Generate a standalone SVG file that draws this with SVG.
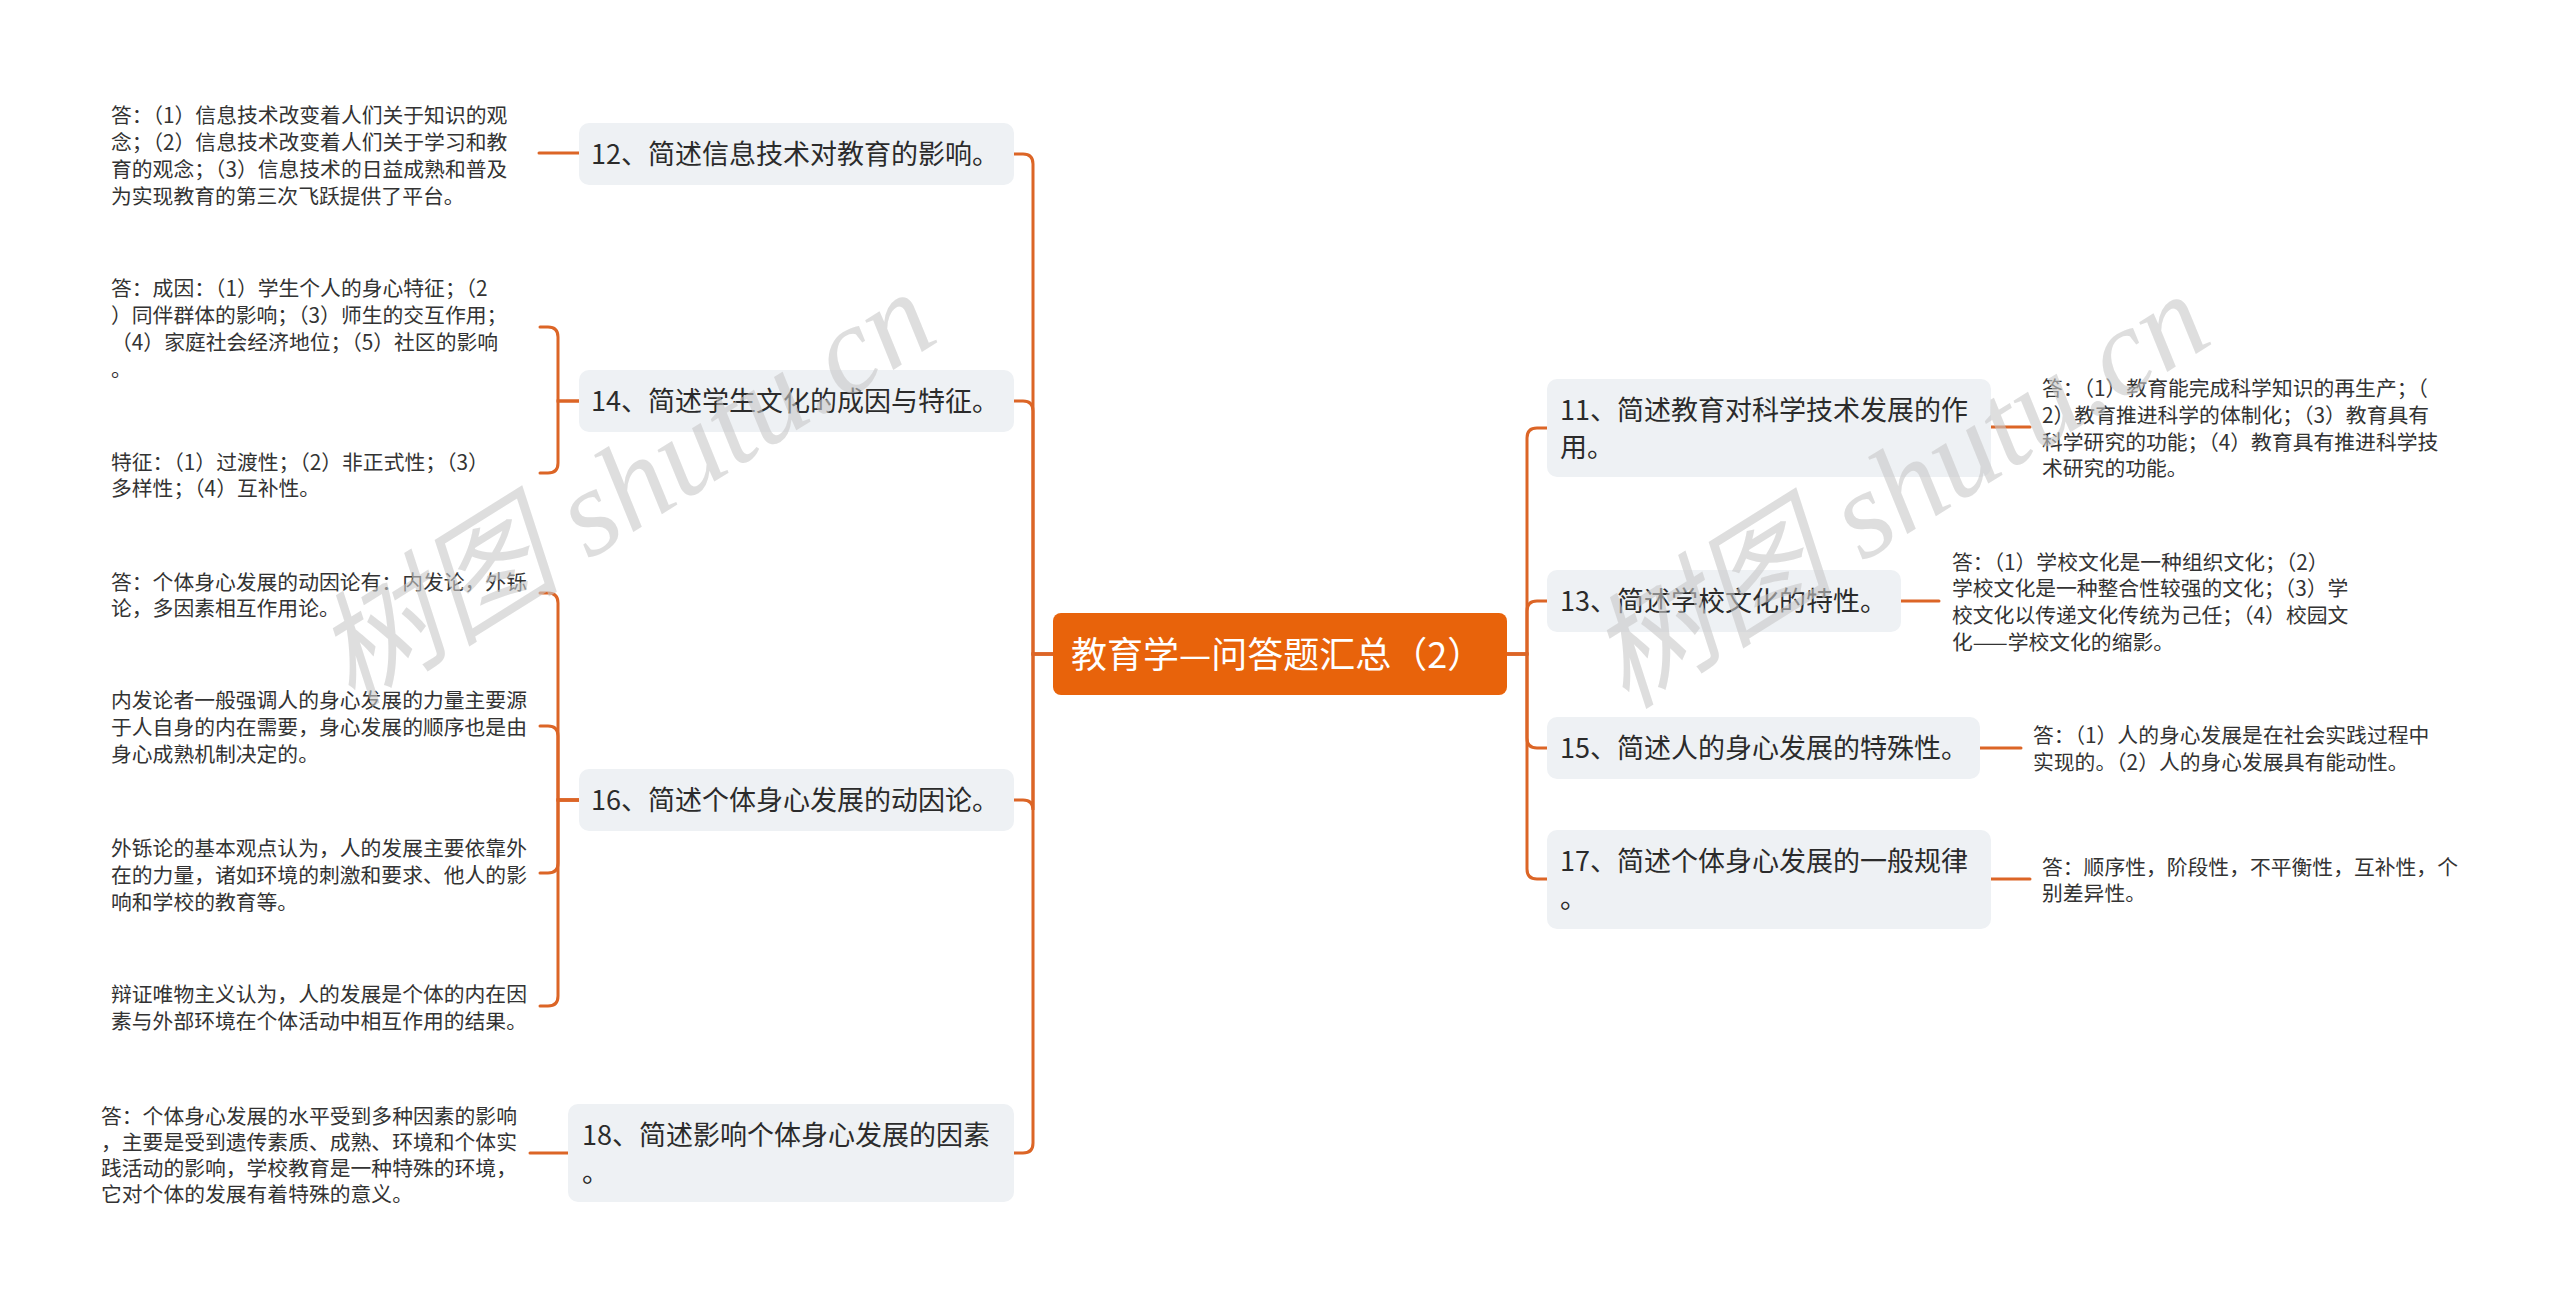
<svg xmlns="http://www.w3.org/2000/svg" width="2560" height="1307" viewBox="0 0 2560 1307">
<style>
.bg{fill:#ffffff}
.node rect{fill:#eef1f4}
.root rect{fill:#e8630b}
.nt{font-family:"Noto Sans CJK SC","Noto Sans",sans-serif;font-size:27px;fill:#2b2b2b}
.rt{font-family:"Noto Sans CJK SC","Noto Sans",sans-serif;font-size:36px;fill:#ffffff}
.lt{font-family:"Noto Sans CJK SC","Noto Sans",sans-serif;font-size:20.8px;fill:#333333}
.conn path{fill:none;stroke:#dc6526;stroke-width:3;stroke-linecap:round}
.wm{font-family:"Liberation Serif","Noto Sans CJK SC",serif;font-style:italic;font-size:124px;fill:#c8c8c8;fill-opacity:0.6}
</style>
<rect class="bg" x="0" y="0" width="2560" height="1307"/>
<g id="connectors" class="conn">
<path d="M1053 654 H1033 V164 Q1033 154 1023 154 H1014"/>
<path d="M1053 654 H1033 V411 Q1033 401 1023 401 H1014"/>
<path d="M1053 654 H1033 V810 Q1033 800 1023 800 H1014"/>
<path d="M1053 654 H1033 V1143 Q1033 1153 1023 1153 H1014"/>
<path d="M1507 654 H1527 V438 Q1527 428 1537 428 H1547"/>
<path d="M1507 654 H1527 V611 Q1527 601 1537 601 H1547"/>
<path d="M1507 654 H1527 V738 Q1527 748 1537 748 H1547"/>
<path d="M1507 654 H1527 V869 Q1527 879 1537 879 H1547"/>
<path d="M579 153 H539"/>
<path d="M579 401 H558 V337 Q558 327 548 327 H540"/>
<path d="M579 401 H558 V463 Q558 473 548 473 H540"/>
<path d="M579 800 H558 V603 Q558 593 548 593 H540"/>
<path d="M579 800 H558 V736 Q558 726 548 726 H540"/>
<path d="M579 800 H558 V863 Q558 873 548 873 H540"/>
<path d="M579 800 H558 V996 Q558 1006 548 1006 H540"/>
<path d="M568 1153 H530"/>
<path d="M1991 427 H2030"/>
<path d="M1901 601 H1939"/>
<path d="M1980 748 H2021"/>
<path d="M1991 879 H2030"/>
</g>
<g id="root" class="root">
<rect x="1053" y="613" width="454" height="82" rx="8"/>
<text class="rt" x="1071" y="668">教育学—问答题汇总（2）</text>
</g>
<g id="n12" class="node">
<rect x="579" y="123" width="435" height="62" rx="10"/>
<text class="nt" x="591" y="164">12、简述信息技术对教育的影响。</text>
</g>
<g id="n14" class="node">
<rect x="579" y="370" width="435" height="62" rx="10"/>
<text class="nt" x="591" y="411">14、简述学生文化的成因与特征。</text>
</g>
<g id="n16" class="node">
<rect x="579" y="769" width="435" height="62" rx="10"/>
<text class="nt" x="591" y="810">16、简述个体身心发展的动因论。</text>
</g>
<g id="n18" class="node">
<rect x="568" y="1104" width="446" height="98" rx="10"/>
<text class="nt" x="582" y="1145">18、简述影响个体身心发展的因素</text>
<text class="nt" x="582" y="1182">。</text>
</g>
<g id="n11" class="node">
<rect x="1547" y="379" width="444" height="98" rx="10"/>
<text class="nt" x="1560" y="420">11、简述教育对科学技术发展的作</text>
<text class="nt" x="1560" y="457">用。</text>
</g>
<g id="n13" class="node">
<rect x="1547" y="570" width="354" height="62" rx="10"/>
<text class="nt" x="1560" y="611">13、简述学校文化的特性。</text>
</g>
<g id="n15" class="node">
<rect x="1547" y="717" width="433" height="62" rx="10"/>
<text class="nt" x="1560" y="758">15、简述人的身心发展的特殊性。</text>
</g>
<g id="n17" class="node">
<rect x="1547" y="830" width="444" height="99" rx="10"/>
<text class="nt" x="1560" y="871">17、简述个体身心发展的一般规律</text>
<text class="nt" x="1560" y="908">。</text>
</g>
<g id="l12">
<text class="lt" x="111" y="123">答：（1）信息技术改变着人们关于知识的观</text>
<text class="lt" x="111" y="150">念；（2）信息技术改变着人们关于学习和教</text>
<text class="lt" x="111" y="177">育的观念；（3）信息技术的日益成熟和普及</text>
<text class="lt" x="111" y="204">为实现教育的第三次飞跃提供了平台。</text>
</g>
<g id="l14a">
<text class="lt" x="111" y="296">答：成因：（1）学生个人的身心特征；（2</text>
<text class="lt" x="111" y="323">）同伴群体的影响；（3）师生的交互作用；</text>
<text class="lt" x="111" y="350">（4）家庭社会经济地位；（5）社区的影响</text>
<text class="lt" x="111" y="377">。</text>
</g>
<g id="l14b">
<text class="lt" x="111" y="470">特征：（1）过渡性；（2）非正式性；（3）</text>
<text class="lt" x="111" y="496">多样性；（4）互补性。</text>
</g>
<g id="l16a">
<text class="lt" x="111" y="590">答：个体身心发展的动因论有：内发论，外铄</text>
<text class="lt" x="111" y="616">论，多因素相互作用论。</text>
</g>
<g id="l16b">
<text class="lt" x="111" y="708">内发论者一般强调人的身心发展的力量主要源</text>
<text class="lt" x="111" y="735">于人自身的内在需要，身心发展的顺序也是由</text>
<text class="lt" x="111" y="762">身心成熟机制决定的。</text>
</g>
<g id="l16c">
<text class="lt" x="111" y="856">外铄论的基本观点认为，人的发展主要依靠外</text>
<text class="lt" x="111" y="883">在的力量，诸如环境的刺激和要求、他人的影</text>
<text class="lt" x="111" y="910">响和学校的教育等。</text>
</g>
<g id="l16d">
<text class="lt" x="111" y="1002">辩证唯物主义认为，人的发展是个体的内在因</text>
<text class="lt" x="111" y="1029">素与外部环境在个体活动中相互作用的结果。</text>
</g>
<g id="l18">
<text class="lt" x="101" y="1124">答：个体身心发展的水平受到多种因素的影响</text>
<text class="lt" x="101" y="1150">，主要是受到遗传素质、成熟、环境和个体实</text>
<text class="lt" x="101" y="1176">践活动的影响，学校教育是一种特殊的环境，</text>
<text class="lt" x="101" y="1202">它对个体的发展有着特殊的意义。</text>
</g>
<g id="r11">
<text class="lt" x="2042" y="396">答：（1）教育能完成科学知识的再生产；（</text>
<text class="lt" x="2042" y="423">2）教育推进科学的体制化；（3）教育具有</text>
<text class="lt" x="2042" y="450">科学研究的功能；（4）教育具有推进科学技</text>
<text class="lt" x="2042" y="476">术研究的功能。</text>
</g>
<g id="r13">
<text class="lt" x="1952" y="570">答：（1）学校文化是一种组织文化；（2）</text>
<text class="lt" x="1952" y="596">学校文化是一种整合性较强的文化；（3）学</text>
<text class="lt" x="1952" y="623">校文化以传递文化传统为己任；（4）校园文</text>
<text class="lt" x="1952" y="650">化——学校文化的缩影。</text>
</g>
<g id="r15">
<text class="lt" x="2033" y="743">答：（1）人的身心发展是在社会实践过程中</text>
<text class="lt" x="2033" y="770">实现的。（2）人的身心发展具有能动性。</text>
</g>
<g id="r17">
<text class="lt" x="2042" y="875">答：顺序性，阶段性，不平衡性，互补性，个</text>
<text class="lt" x="2042" y="901">别差异性。</text>
</g>
<g id="watermark">
<text class="wm" x="352" y="708" transform="rotate(-32 352 708)">树图 shutu.cn</text>
<text class="wm" x="1626" y="710" transform="rotate(-32 1626 710)">树图 shutu.cn</text>
</g>
</svg>
